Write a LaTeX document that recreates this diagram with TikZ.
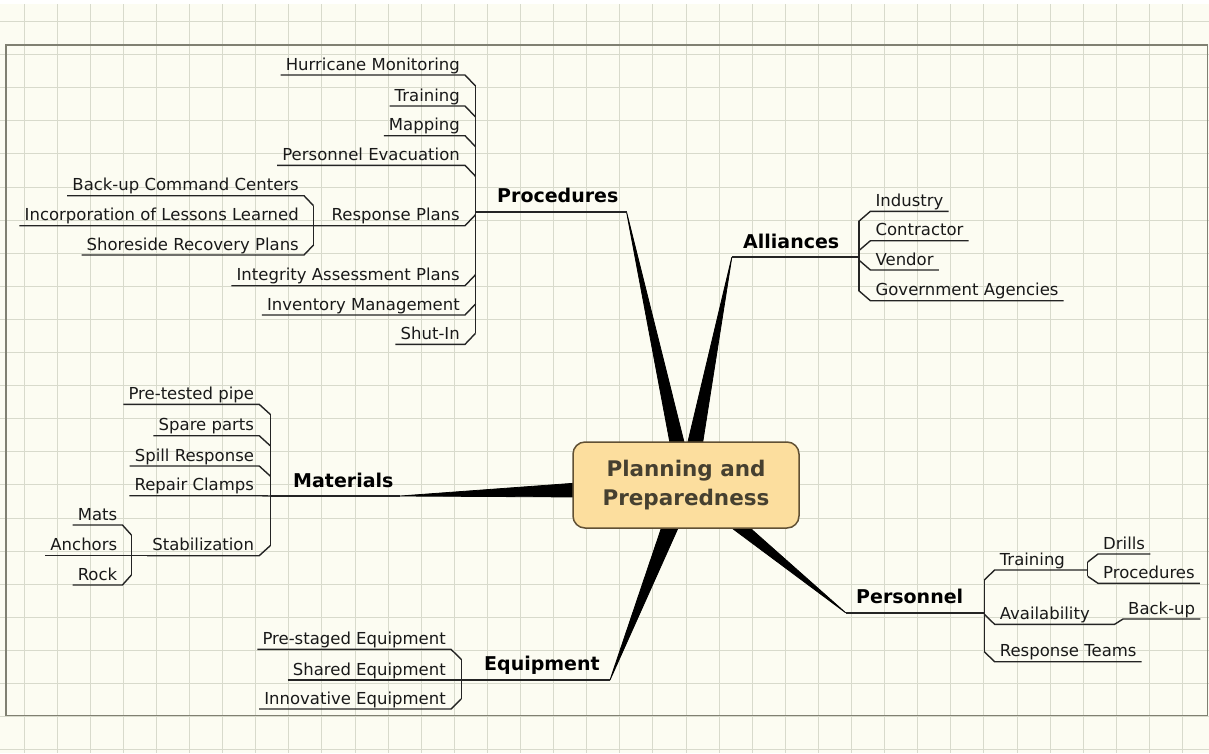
\documentclass[tikz,border=0pt]{standalone}
\usepackage{fontspec}
\setmainfont{DejaVu Sans}
\usepackage{xcolor}
\usepackage{tikz}
\usetikzlibrary{calc}

\definecolor{paper}{RGB}{252,252,242}
\definecolor{gridline}{RGB}{216,218,204}
\definecolor{framegray}{RGB}{128,128,114}
\definecolor{hubfill}{RGB}{252,222,158}
\definecolor{hubedge}{RGB}{96,80,52}
\definecolor{hubtext}{RGB}{70,64,48}
\definecolor{ink}{RGB}{36,36,36}

\tikzset{
  leaf/.style={font=\fontsize{16.5}{18}\selectfont, text=black!90, inner xsep=5pt, inner ysep=0pt, text height=12pt, text depth=4.7pt},
  topic/.style={font=\fontsize{19}{22}\selectfont\bfseries, text=black, inner sep=0pt, anchor=base west},
  hubbox/.style={draw=hubedge, fill=hubfill, line width=1.5pt, rounded corners=12pt, minimum width=226pt, minimum height=86pt, align=center, text=hubtext, font=\fontsize{21.5}{29.5}\selectfont\bfseries},
  twig/.style={draw=ink, line width=1.4pt},
  limb/.style={draw=ink, line width=1.7pt},
  wedge/.style={fill=black, draw=black, line width=0.8pt, line join=round},
}

\begin{document}
\begin{tikzpicture}[x=1pt, y=-1pt]
    \useasboundingbox (0,0) rectangle (1209,753);
    % paper, grid and frame
    \fill[paper] (0,0) rectangle (1209,753);
    \foreach \gx in {0,...,35} \draw[gridline, line width=1pt] ({24+33.1*\gx},4) -- ({24+33.1*\gx},753);
    \foreach \gy in {0,...,22} \draw[gridline, line width=1pt] (0,{21.5+33.1*\gy}) -- (1209,{21.5+33.1*\gy});
    \fill[white] (0,0) rectangle (1209,4);
    \draw[framegray, line width=1.5pt] (6,45) rectangle (1207.5,715.5);

    % branch ends
    \coordinate (procTip) at (626.5,211.7);
    \coordinate (procJ) at (475.5,211.7);
    \coordinate (allyTip) at (731.8,257.3);
    \coordinate (allyJ) at (858.8,257.3);
    \coordinate (persTip) at (845.6,612.7);
    \coordinate (persJ) at (984.3,612.7);
    \coordinate (matTip) at (400,496);
    \coordinate (matJ) at (270.2,496);
    \coordinate (equipTip) at (610,680);
    \coordinate (equipJ) at (461.2,680);

    \draw[wedge] (procTip) -- (671.3,450) -- (686,450) -- cycle;
    \draw[wedge] (allyTip) -- (686,450) -- (701.5,450) -- cycle;
    \draw[wedge] (persTip) -- (721.1,520) -- (741,520) -- cycle;
    \draw[wedge] (equipTip) -- (664.1,520) -- (681.6,520) -- cycle;
    \draw[wedge] (matTip) -- (580,482.8) -- (580,497) -- cycle;

    \node[hubbox] (hub) at (686,485) {Planning and\\Preparedness};

    \node[topic] (procedures) at (497,202) {Procedures};
    \node[topic] (alliances) at (743,248) {Alliances};
    \node[topic] (personnel) at (856,603) {Personnel};
    \node[topic] (materials) at (293,487) {Materials};
    \node[topic] (equipment) at (484,670.5) {Equipment};

    \draw[limb] (procJ) -- (procTip);
    \draw[limb] (allyTip) -- (allyJ);
    \draw[limb] (persTip) -- (persJ);
    \draw[limb] (matJ) -- (matTip);
    \draw[limb] (equipJ) -- (equipTip);

    % procedures
    \node[leaf, anchor=south east] (hurricane) at (465,75) {Hurricane Monitoring};
    \node[leaf, anchor=south east] (procTraining) at (465,106) {Training};
    \node[leaf, anchor=south east] (mapping) at (465,135.7) {Mapping};
    \node[leaf, anchor=south east] (evacuation) at (465,165.3) {Personnel Evacuation};
    \node[leaf, anchor=south east] (response) at (465,225.7) {Response Plans};
    \node[leaf, anchor=south east] (integrity) at (465,285.7) {Integrity Assessment Plans};
    \node[leaf, anchor=south east] (inventory) at (465,315) {Inventory Management};
    \node[leaf, anchor=south east] (shutin) at (465,344.3) {Shut-In};
    \draw[twig] (hurricane.south west) -- (hurricane.south east) -- ++(10.5,11);
    \draw[twig] (procTraining.south west) -- (procTraining.south east) -- ++(10.5,11);
    \draw[twig] (mapping.south west) -- (mapping.south east) -- ++(10.5,11);
    \draw[twig] (evacuation.south west) -- (evacuation.south east) -- ++(10.5,11);
    \draw[twig] (integrity.south west) -- (integrity.south east) -- ++(10.5,-11);
    \draw[twig] (inventory.south west) -- (inventory.south east) -- ++(10.5,-11);
    \draw[twig] (shutin.south west) -- (shutin.south east) -- ++(10.5,-11);
    \draw[twig] ($(hurricane.south east)+(10.5,11)$) -- ($(shutin.south east)+(10.5,-11)$);

    \coordinate (responseJ) at (313.5,225.7);
    \node[leaf, anchor=south east] (backup) at (304,195.7) {Back-up Command Centers};
    \node[leaf, anchor=south east] (lessons) at (304,225.7) {Incorporation of Lessons Learned};
    \node[leaf, anchor=south east] (shoreside) at (304,255) {Shoreside Recovery Plans};
    \draw[twig] (backup.south west) -- (backup.south east) -- ++(9.5,10);
    \draw[twig] (shoreside.south west) -- (shoreside.south east) -- ++(9.5,-10);
    \draw[twig] (lessons.south west) -- (responseJ) -- (response.south west) -- (response.south east) -- ++(10.5,-11);
    \draw[twig] ($(backup.south east)+(9.5,10)$) -- ($(shoreside.south east)+(9.5,-10)$);

    % alliances
    \node[leaf, anchor=south west] (industry) at (870.4,211.3) {Industry};
    \node[leaf, anchor=south west] (contractor) at (870.4,240.7) {Contractor};
    \node[leaf, anchor=south west] (vendor) at (870.4,270) {Vendor};
    \node[leaf, anchor=south west] (government) at (870.4,300.7) {Government Agencies};
    \draw[twig] (industry.south east) -- (industry.south west) -- ++(-11.6,10);
    \draw[twig] (contractor.south east) -- (contractor.south west) -- ++(-11.6,10);
    \draw[twig] (vendor.south east) -- (vendor.south west) -- ++(-11.6,-10);
    \draw[twig] (government.south east) -- (government.south west) -- ++(-11.6,-10);
    \draw[twig] ($(industry.south west)+(-11.6,10)$) -- ($(government.south west)+(-11.6,-10)$);

    % personnel
    \coordinate (trainJ) at (1087.7,570);
    \coordinate (availKnee) at (1114.6,624.3);
    \node[leaf, anchor=south west] (persTraining) at (994.6,570) {Training};
    \node[leaf, anchor=south west] (availability) at (994.6,624.3) {Availability};
    \node[leaf, anchor=south west] (teams) at (994.6,661.7) {Response Teams};
    \node[leaf, anchor=south west] (drills) at (1098,554) {Drills};
    \node[leaf, anchor=south west] (persProcedures) at (1098,583.3) {Procedures};
    \node[leaf, anchor=south west] (backupPers) at (1123,619) {Back-up};
    \draw[twig] ($(persTraining.south west)+(-10.3,10)$) -- (persTraining.south west) -- (trainJ);
    \draw[twig] ($(availability.south west)+(-10.3,-10)$) -- (availability.south west) -- (availKnee) -- (backupPers.south west) -- (backupPers.south east);
    \draw[twig] ($(teams.south west)+(-10.3,-10)$) -- (teams.south west) -- (teams.south east);
    \draw[twig] ($(persTraining.south west)+(-10.3,10)$) -- ($(teams.south west)+(-10.3,-10)$);
    \draw[twig] ($(drills.south west)+(-10.3,8)$) -- (drills.south west) -- (drills.south east);
    \draw[twig] ($(persProcedures.south west)+(-10.3,-7)$) -- (persProcedures.south west) -- (persProcedures.south east);
    \draw[twig] ($(drills.south west)+(-10.3,8)$) -- ($(persProcedures.south west)+(-10.3,-7)$);

    % materials
    \node[leaf, anchor=south east] (pipe) at (259.2,404.3) {Pre-tested pipe};
    \node[leaf, anchor=south east] (spare) at (259.2,435.7) {Spare parts};
    \node[leaf, anchor=south east] (spill) at (259.2,466) {Spill Response};
    \node[leaf, anchor=south east] (clamps) at (259.2,495.7) {Repair Clamps};
    \node[leaf, anchor=south east] (stabil) at (259.2,555.7) {Stabilization};
    \draw[twig] (pipe.south west) -- (pipe.south east) -- ++(11,10);
    \draw[twig] (spare.south west) -- (spare.south east) -- ++(11,10);
    \draw[twig] (spill.south west) -- (spill.south east) -- ++(11,10);
    \draw[twig] (clamps.south west) -- (clamps.south east) -- (matJ);
    \draw[twig] (stabil.south west) -- (stabil.south east) -- ++(11,-10);
    \draw[twig] ($(pipe.south east)+(11,10)$) -- ($(stabil.south east)+(11,-10)$);

    \coordinate (stabJ) at (131.4,555.7);
    \node[leaf, anchor=south east] (mats) at (122.4,525) {Mats};
    \node[leaf, anchor=south east] (anchors) at (122.4,555.7) {Anchors};
    \node[leaf, anchor=south east] (rock) at (122.4,585) {Rock};
    \draw[twig] (mats.south west) -- (mats.south east) -- ++(9,10);
    \draw[twig] (anchors.south west) -- (stabJ) -- (stabil.south west);
    \draw[twig] (rock.south west) -- (rock.south east) -- ++(9,-10);
    \draw[twig] ($(mats.south east)+(9,10)$) -- ($(rock.south east)+(9,-10)$);

    % equipment
    \node[leaf, anchor=south east] (prestaged) at (451,649.3) {Pre-staged Equipment};
    \node[leaf, anchor=south east] (shared) at (451,680) {Shared Equipment};
    \node[leaf, anchor=south east] (innovative) at (451,709) {Innovative Equipment};
    \draw[twig] (prestaged.south west) -- (prestaged.south east) -- ++(10.2,10);
    \draw[twig] (shared.south west) -- (shared.south east) -- (equipJ);
    \draw[twig] (innovative.south west) -- (innovative.south east) -- ++(10.2,-10);
    \draw[twig] ($(prestaged.south east)+(10.2,10)$) -- ($(innovative.south east)+(10.2,-10)$);
\end{tikzpicture}
\end{document}
